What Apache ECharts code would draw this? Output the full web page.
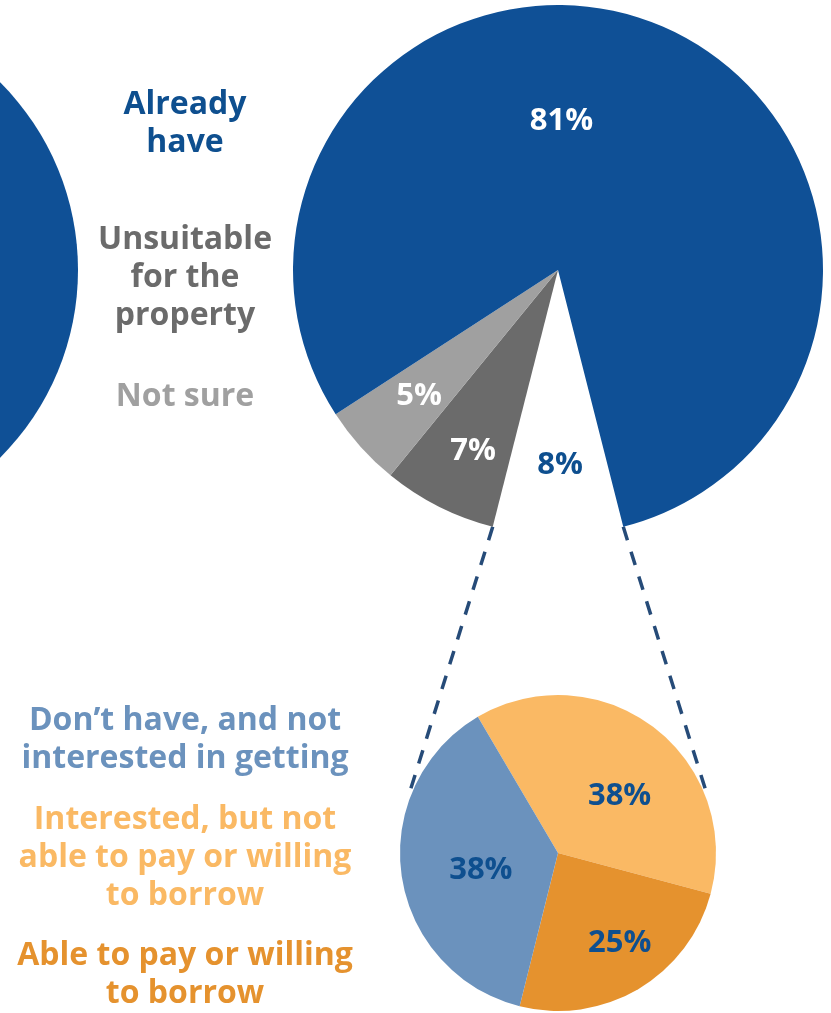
<!DOCTYPE html>
<html>
<head>
<meta charset="utf-8">
<script src="https://cdn.jsdelivr.net/npm/echarts@6/dist/echarts.min.js"></script>
<style>
  html, body { margin: 0; padding: 0; background: #ffffff; }
  #chart { width: 831px; height: 1013px; }
</style>
</head>
<body>
<div id="chart"></div>
<script>
// Main question: share of households by status (the first slice is pulled out and broken down below)
const mainCategories = ['Don\u2019t have', 'Unsuitable\nfor the\nproperty', 'Not sure', 'Already\nhave'];
const mainValues = [8, 7, 5, 81];

// Breakdown of the households that don't have it
const detailCategories = [
  'Interested, but not\nable to pay or willing\nto borrow',
  'Able to pay or willing\nto borrow',
  'Don\u2019t have, and not\ninterested in getting'
];
const detailValues = [38, 25, 38];

// Neighbouring pie, only its right edge shows
const sideCategories = ['Already have'];
const sideValues = [100];

// ---- styling / layout ----
const FONT = '"Open Sans", "Noto Sans", sans-serif';
const NAVY = '#0e4f8f';
const mainColors = ['rgba(0,0,0,0)', '#6b6b6b', '#a0a0a0', '#0f5096'];
const detailColors = ['#fab964', '#e5922e', '#6b92bd'];

const BIG = { cx: 558, cy: 270, r: 265 };
const SMALL = { cx: 558, cy: 853, r: 158 };
const SIDE = { cx: -187, cy: 270, r: 265 };

const mainLabelOffsets = [[2, 60], [-24, 60], [-38, 36], [-46, -23]];
const detailLabelOffsets = [[12, 8], [20, 20], [4, 5]];

const mainTotal = mainValues.reduce((a, b) => a + b, 0);
const gapHalfAngle = mainValues[0] / mainTotal * 180;   // pulled-out slice is centred at 6 o'clock

// caption blocks on the left: [names, colours, index, centre y]
const captions = [
  [mainCategories, mainColors, 3, 123.5],
  [mainCategories, mainColors, 1, 278],
  [mainCategories, mainColors, 2, 396.5],
  [detailCategories, detailColors, 2, 739.5],
  [detailCategories, detailColors, 0, 857.5],
  [detailCategories, detailColors, 1, 974.5]
];
const captionColorOverride = { 'Already\nhave': NAVY };

function pointOn(c, radius, deg) {
  const a = deg * Math.PI / 180;
  return [c.cx + radius * Math.cos(a), c.cy - radius * Math.sin(a)];
}

const graphics = [];
captions.forEach(([names, colors, idx, y]) => {
  const text = names[idx];
  graphics.push({
    type: 'text',
    silent: true,
    style: {
      text: text,
      x: 185,
      y: y,
      fill: captionColorOverride[text] || colors[idx],
      font: 'bold 32px ' + FONT,
      textAlign: 'center',
      textVerticalAlign: 'middle',
      align: 'center',
      verticalAlign: 'middle',
      lineHeight: 38
    }
  });
});

// dashed connectors from the pulled-out slice to the breakdown pie
const connectorEnds = [
  [pointOn(BIG, BIG.r, -90 - gapHalfAngle), pointOn(SMALL, SMALL.r + 2, 159)],
  [pointOn(BIG, BIG.r, -90 + gapHalfAngle), pointOn(SMALL, SMALL.r + 2, 21)]
];
connectorEnds.forEach(([p1, p2]) => {
  graphics.push({
    type: 'line',
    silent: true,
    shape: { x1: p1[0], y1: p1[1], x2: p2[0], y2: p2[1] },
    style: { stroke: '#264b78', lineWidth: 3.5, lineDash: [14, 12] }
  });
});

const labelBase = {
  show: true,
  position: 'inside',
  formatter: '{c}%',
  fontFamily: FONT,
  fontWeight: 'bold',
  fontSize: 31,
  textBorderWidth: 0,
  textShadowBlur: 0
};

const chart = echarts.init(document.getElementById('chart'), null, { renderer: 'canvas' });
chart.setOption({
  animation: false,
  backgroundColor: '#ffffff',
  graphic: graphics,
  series: [
    {
      type: 'pie',
      silent: true,
      center: [SIDE.cx, SIDE.cy],
      radius: SIDE.r,
      label: { show: false },
      labelLine: { show: false },
      itemStyle: { borderWidth: 0 },
      data: sideValues.map((v, i) => ({ value: v, name: sideCategories[i], itemStyle: { color: '#0f5096' } }))
    },
    {
      type: 'pie',
      silent: true,
      center: [BIG.cx, BIG.cy],
      radius: BIG.r,
      startAngle: -90 + gapHalfAngle,
      clockwise: true,
      avoidLabelOverlap: false,
      itemStyle: { borderWidth: 0 },
      label: Object.assign({}, labelBase, { color: '#ffffff' }),
      labelLine: { show: false },
      labelLayout: p => ({ dx: mainLabelOffsets[p.dataIndex][0], dy: mainLabelOffsets[p.dataIndex][1] }),
      data: mainValues.map((v, i) => ({
        value: v,
        name: mainCategories[i],
        itemStyle: { color: mainColors[i] },
        label: i === 0 ? { color: NAVY } : {}
      }))
    },
    {
      type: 'pie',
      silent: true,
      center: [SMALL.cx, SMALL.cy],
      radius: SMALL.r,
      startAngle: 120.5,
      clockwise: true,
      avoidLabelOverlap: false,
      itemStyle: { borderWidth: 0 },
      label: Object.assign({}, labelBase, { color: NAVY }),
      labelLine: { show: false },
      labelLayout: p => ({ dx: detailLabelOffsets[p.dataIndex][0], dy: detailLabelOffsets[p.dataIndex][1] }),
      data: detailValues.map((v, i) => ({
        value: v,
        name: detailCategories[i],
        itemStyle: { color: detailColors[i] }
      }))
    }
  ]
});
</script>
</body>
</html>
